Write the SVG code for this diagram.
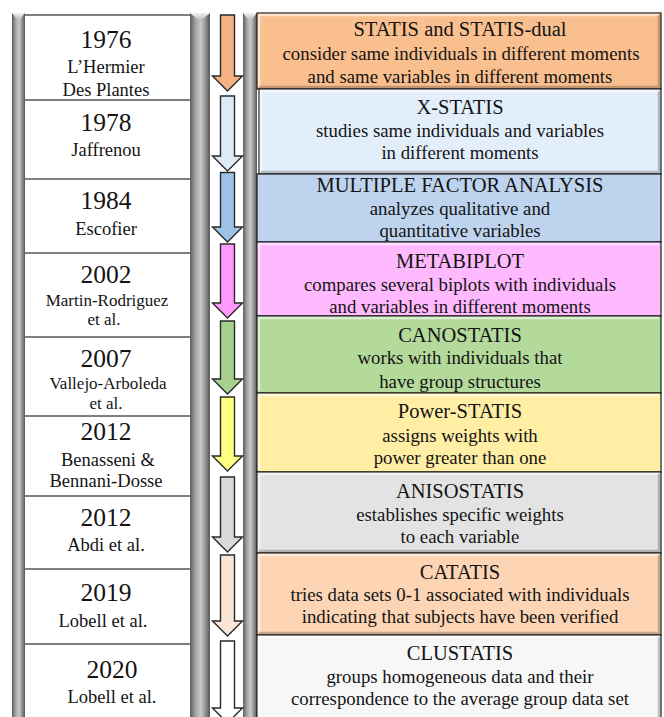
<svg xmlns="http://www.w3.org/2000/svg" width="664" height="717" viewBox="0 0 664 717">
<defs>
<linearGradient id="pil" x1="0" y1="0" x2="1" y2="0">
<stop offset="0" stop-color="#5e5e5e"/>
<stop offset="0.3" stop-color="#a8a8a8"/>
<stop offset="0.55" stop-color="#c9c9c9"/>
<stop offset="0.8" stop-color="#8c8c8c"/>
<stop offset="1" stop-color="#555555"/>
</linearGradient>
<linearGradient id="cap" x1="0" y1="0" x2="0" y2="1">
<stop offset="0" stop-color="#f2f2f2"/>
<stop offset="1" stop-color="#b5b5b5"/>
</linearGradient>
</defs>
<style>
text{font-family:"Liberation Serif","Times New Roman",serif;fill:#141414;text-anchor:middle}
.yr{font-size:25.5px}
.nm{font-size:18.5px}
.nm2{font-size:17px}
.tt{font-size:20.5px}
.sb{font-size:18.8px}
.pil{fill:url(#pil)}
.cap{fill:url(#cap)}
.row{stroke:#000;stroke-width:1}
.box{stroke:#1c1c1c;stroke-width:1.2}
.hi{fill:none;stroke:#fff;stroke-opacity:.55;stroke-width:2.5}
.lo{fill:none;stroke:#000;stroke-opacity:.22;stroke-width:2.5}
.arr{stroke:#2a2a2a;stroke-width:1.4;stroke-linejoin:miter}
</style>
<rect width="664" height="717" fill="#fff"/>

<g id="pillars">
<rect class="pil" x="12" y="13" width="13" height="704"/>
<polygon class="cap" points="12,13 25,13 21,18 18.5,21 16,18"/>
<rect class="pil" x="190" y="13" width="20" height="704"/>
<polygon class="cap" points="190,13 210,13 204,18 200,21 196,18"/>
<rect class="pil" x="243" y="13" width="14" height="704"/>
<polygon class="cap" points="243,13 257,13 253,18 250,21 247,18"/>
</g>

<g id="timeline-rows">
<line class="row" x1="25" y1="15" x2="190" y2="15"/>
<line class="row" x1="25" y1="100" x2="190" y2="100"/>
<line class="row" x1="25" y1="179" x2="190" y2="179"/>
<line class="row" x1="25" y1="253" x2="190" y2="253"/>
<line class="row" x1="25" y1="337" x2="190" y2="337"/>
<line class="row" x1="25" y1="416" x2="190" y2="416"/>
<line class="row" x1="25" y1="496" x2="190" y2="496"/>
<line class="row" x1="25" y1="569" x2="190" y2="569"/>
<line class="row" x1="25" y1="644" x2="190" y2="644" stroke="#666"/>
</g>

<g id="year-1976"><text class="yr" x="106" y="48">1976</text><text class="nm" x="106" y="73">L’Hermier</text><text class="nm" x="106" y="95.5">Des Plantes</text></g>
<g id="year-1978"><text class="yr" x="106" y="131">1978</text><text class="nm" x="106" y="156">Jaffrenou</text></g>
<g id="year-1984"><text class="yr" x="106" y="209">1984</text><text class="nm" x="106" y="235">Escofier</text></g>
<g id="year-2002"><text class="yr" x="106" y="282.5">2002</text><text class="nm2" x="107" y="305.5">Martin-Rodriguez</text><text class="nm2" x="104" y="325">et al.</text></g>
<g id="year-2007"><text class="yr" x="106" y="366.5">2007</text><text class="nm2" x="108" y="389">Vallejo-Arboleda</text><text class="nm2" x="106" y="409">et al.</text></g>
<g id="year-2012a"><text class="yr" x="106" y="440">2012</text><text class="nm" x="108" y="465.5">Benasseni &amp;</text><text class="nm" x="106" y="487">Bennani-Dosse</text></g>
<g id="year-2012b"><text class="yr" x="106" y="526">2012</text><text class="nm" x="106" y="550.5">Abdi et al.</text></g>
<g id="year-2019"><text class="yr" x="106" y="600.5">2019</text><text class="nm" x="103" y="627">Lobell et al.</text></g>
<g id="year-2020"><text class="yr" x="112" y="678">2020</text><text class="nm" x="112" y="703">Lobell et al.</text></g>

<g id="connectors">
<path class="arr" fill="#F4B183" d="M220.5,15 H234.5 V76 H242.5 L227.5,91 L212.5,76 H220.5 Z"/>
<path class="arr" fill="#DEEBF7" d="M220.5,96 H234.5 V156 H242.5 L227.5,171 L212.5,156 H220.5 Z"/>
<path class="arr" fill="#9DC3E6" d="M220.5,172.5 H234.5 V227 H242.5 L227.5,242 L212.5,227 H220.5 Z"/>
<path class="arr" fill="#FF99FF" d="M220.5,244 H234.5 V303 H242.5 L227.5,318 L212.5,303 H220.5 Z"/>
<path class="arr" fill="#A9D18E" d="M220.5,321 H234.5 V379 H242.5 L227.5,394 L212.5,379 H220.5 Z"/>
<path class="arr" fill="#FFFF80" d="M220.5,397 H234.5 V456 H242.5 L227.5,471 L212.5,456 H220.5 Z"/>
<path class="arr" fill="#D9D9D9" d="M220.5,477 H234.5 V537 H242.5 L227.5,552 L212.5,537 H220.5 Z"/>
<path class="arr" fill="#FBE5D6" d="M220.5,555 H234.5 V621 H242.5 L227.5,636 L212.5,621 H220.5 Z"/>
<path class="arr" fill="#FFFFFF" d="M220.5,641 H234.5 V708 H242.5 L227.5,723 L212.5,708 H220.5 Z"/>
</g>

<g id="m-statis">
<rect class="box" x="257" y="13" width="404" height="76" fill="#FABF8F"/>
<polyline class="hi" points="259,87 259,15 659,15"/><polyline class="lo" points="259,87 659,87 659,15"/>
<text class="tt" x="460" y="36">STATIS and STATIS-dual</text>
<text class="sb" x="461" y="60">consider same individuals in different moments</text>
<text class="sb" x="460" y="82.5">and same variables in different moments</text>
</g>
<g id="m-xstatis">
<rect class="box" x="259" y="89" width="402" height="85" fill="#E3EEFB"/>
<polyline class="hi" points="261,172 261,91 659,91"/><polyline class="lo" points="261,172 659,172 659,91"/>
<text class="tt" x="460" y="114">X-STATIS</text>
<text class="sb" x="460" y="136.5">studies same individuals and variables</text>
<text class="sb" x="460" y="159">in different moments</text>
</g>
<g id="m-mfa">
<rect class="box" x="257" y="174" width="404" height="68" fill="#BDD3EE"/>
<text class="tt" x="460" y="191.5">MULTIPLE FACTOR ANALYSIS</text>
<text class="sb" x="460" y="215">analyzes qualitative and</text>
<text class="sb" x="460" y="237">quantitative variables</text>
</g>
<g id="m-metabiplot">
<rect class="box" x="257" y="242" width="404" height="74" fill="#FFB9FF"/>
<polyline class="hi" points="259,314 259,244 659,244"/>
<text class="tt" x="460" y="267.5">METABIPLOT</text>
<text class="sb" x="460" y="291">compares several biplots with individuals</text>
<text class="sb" x="460" y="312.5">and variables in different moments</text>
</g>
<g id="m-canostatis">
<rect class="box" x="257" y="316" width="404" height="77" fill="#B3D99B"/>
<polyline class="hi" points="259,391 259,318 659,318"/>
<text class="tt" x="460" y="341.5">CANOSTATIS</text>
<text class="sb" x="460" y="364">works with individuals that</text>
<text class="sb" x="460" y="387.5">have group structures</text>
</g>
<g id="m-powerstatis">
<rect class="box" x="257" y="393" width="404" height="79" fill="#FFEEA3"/>
<polyline class="hi" points="259,470 259,395 659,395"/>
<text class="tt" x="460" y="418">Power-STATIS</text>
<text class="sb" x="460" y="441.5">assigns weights with</text>
<text class="sb" x="460" y="464">power greater than one</text>
</g>
<g id="m-anisostatis">
<rect class="box" x="257" y="472" width="404" height="81" fill="#E3E3E3"/>
<polyline class="hi" points="259,551 259,474 659,474"/><polyline class="lo" points="259,551 659,551 659,474"/>
<text class="tt" x="460" y="498">ANISOSTATIS</text>
<text class="sb" x="460" y="521">establishes specific weights</text>
<text class="sb" x="460" y="543">to each variable</text>
</g>
<g id="m-catatis">
<rect class="box" x="257" y="553" width="404" height="82" fill="#FDD5B4"/>
<polyline class="hi" points="259,633 259,555 659,555"/><polyline class="lo" points="259,633 659,633 659,555"/>
<text class="tt" x="460" y="579">CATATIS</text>
<text class="sb" x="460" y="600.5">tries data sets 0-1 associated with individuals</text>
<text class="sb" x="460" y="623">indicating that subjects have been verified</text>
</g>
<g id="m-clustatis">
<rect class="box" x="257" y="635" width="404" height="90" fill="#F7F7F7"/>
<polyline class="hi" points="259,717 259,637 659,637"/><polyline class="lo" points="659,717 659,637"/>
<text class="tt" x="460" y="660">CLUSTATIS</text>
<text class="sb" x="460" y="683">groups homogeneous data and their</text>
<text class="sb" x="460" y="705">correspondence to the average group data set</text>
</g>
</svg>
